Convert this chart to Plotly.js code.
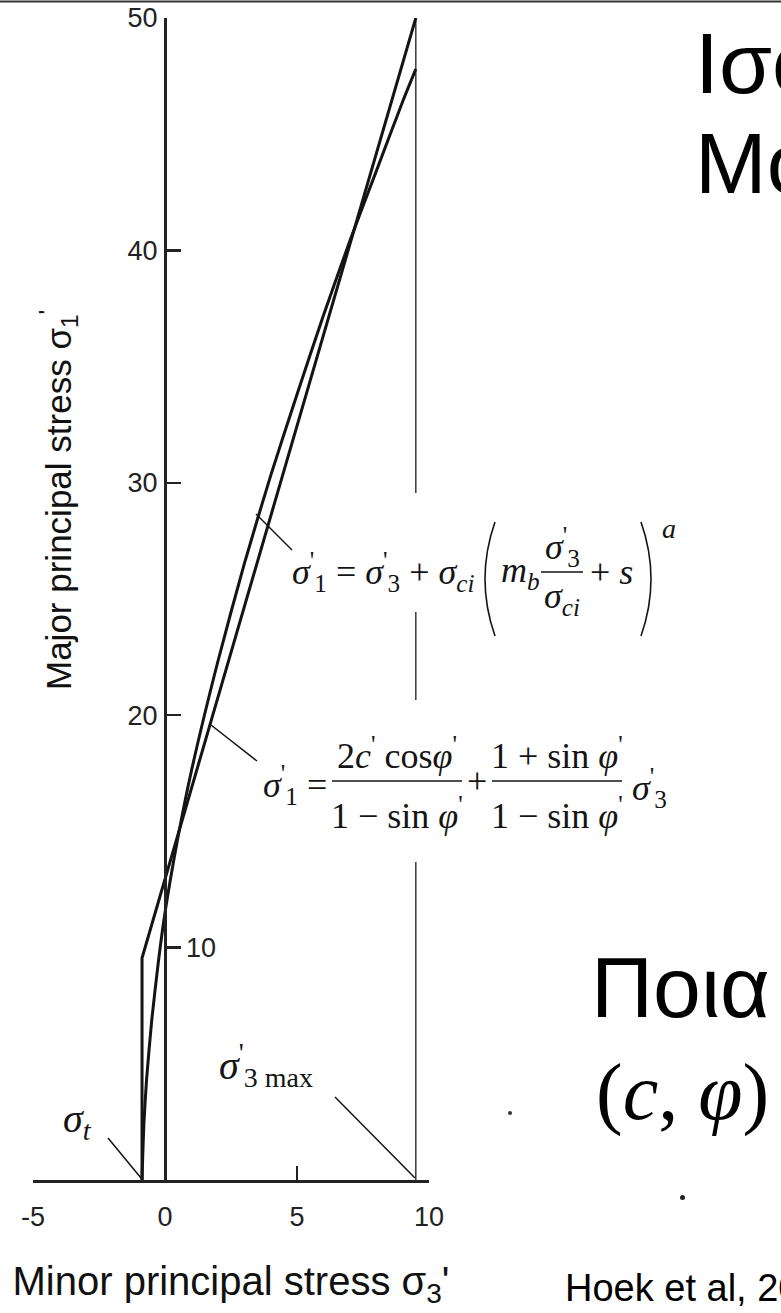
<!DOCTYPE html>
<html>
<head>
<meta charset="utf-8">
<script src="https://cdn.plot.ly/plotly-3.0.1.min.js"></script>
<style>
  html, body { margin: 0; padding: 0; background: #fff; overflow: hidden; }
  #chart { width: 781px; height: 1313px; }
</style>
</head>
<body>
<div id="chart"></div>
<script>
// Generalised Hoek-Brown envelope, minor vs major principal effective stress (MPa)
const hbSigma3 = [-0.87, -0.85, -0.8, -0.7, -0.5, -0.25, 0, 0.5, 1, 2, 3, 4, 5, 6, 7, 8, 9, 9.5];
const hbSigma1 = [0, 0.8, 2.4, 4.3, 6.9, 9.4, 11.5, 14.8, 17.6, 22.3, 26.5, 30.3, 33.8, 37.2, 40.4, 43.4, 46.4, 47.8];

// Equivalent Mohr-Coulomb line, with the tension cut-off at sigma_t
const mcSigma3 = [-0.87, -0.87, 9.5];
const mcSigma1 = [0, 9.55, 50];

// Upper limit of the confining stress range, sigma'3max
const s3maxSigma3 = [9.5, 9.5];
const s3maxSigma1 = [0, 50];

// Axis ticks
const xTickVals = [-5, 0, 5, 10];
const xTickText = ['-5', '0', '5', '10'];
const yTickVals = [10, 20, 30, 40, 50];
const yTickText = ['', '20', '30', '40', '50'];
const yInnerLabel = '10';

// Plot area in pixels, used to place the free-standing text and leader lines
const PLOT = { l: 33, t: 18, w: 396, h: 1162 };
const W = 781, H = 1313;
const px = v => (v - PLOT.l) / PLOT.w;
const py = v => (PLOT.t + PLOT.h - v) / PLOT.h;

const INK = '#141414';
const SERIF = 'Liberation Serif, Times New Roman, serif';
const SANS = 'Liberation Sans, Arial, sans-serif';

function label(text, x, y, o = {}) {
  return {
    xref: 'paper', yref: 'paper', x: px(x), y: py(y), text: text,
    showarrow: false, xanchor: o.xa || 'left', yanchor: o.ya || 'middle',
    textangle: o.angle || 0,
    font: { family: o.family || SERIF, size: o.size || 36, color: o.color || INK }
  };
}
function seg(x0, y0, x1, y1, w, color) {
  return {
    type: 'line', xref: 'paper', yref: 'paper', layer: 'above',
    x0: px(x0), y0: py(y0), x1: px(x1), y1: py(y1),
    line: { color: color || INK, width: w || 1.5 }
  };
}
function curve(xTop, yTop, xCtl, yCtl, xBot, yBot) {
  return {
    type: 'path', xref: 'paper', yref: 'paper', layer: 'above',
    path: `M ${px(xTop)},${py(yTop)} Q ${px(xCtl)},${py(yCtl)} ${px(xBot)},${py(yBot)}`,
    line: { color: INK, width: 1.6 }
  };
}
function blank(x0, y0, x1, y1) {
  return {
    type: 'rect', xref: 'paper', yref: 'paper', layer: 'above',
    x0: px(x0), y0: py(y0), x1: px(x1), y1: py(y1),
    fillcolor: '#ffffff', line: { width: 0 }
  };
}

const traces = [
  { x: s3maxSigma3, y: s3maxSigma1, mode: 'lines', line: { color: '#3a3a3a', width: 1.5 }, hoverinfo: 'skip' },
  { x: mcSigma3, y: mcSigma1, mode: 'lines', line: { color: INK, width: 3 }, name: 'Mohr-Coulomb' },
  { x: hbSigma3, y: hbSigma1, mode: 'lines', line: { color: INK, width: 3, shape: 'spline', smoothing: 0.6 }, name: 'Hoek-Brown' }
];

const shapes = [
  // white panels behind the two criteria, breaking the sigma'3max line
  blank(285, 493, 675, 612),
  blank(262, 700, 680, 862),
  // leader lines
  seg(256, 514, 292, 550),
  seg(211, 725, 257, 761),
  seg(108, 1138, 141, 1178),
  seg(335, 1097, 415, 1178),
  // large brackets of the Hoek-Brown term
  curve(495, 522, 475, 579, 495, 636),
  curve(641, 522, 661, 579, 641, 636),
  // fraction bars
  seg(541, 572, 583, 572, 1.5),
  seg(332, 781, 462, 781, 1.5),
  seg(492, 781, 622, 781, 1.5),
  // rule along the top edge of the page
  seg(0, 1.5, W, 1.5, 2, '#333'),
  // two stray printer's dots
  { type: 'circle', xref: 'paper', yref: 'paper', layer: 'above',
    x0: px(508), x1: px(512), y0: py(1111), y1: py(1115), fillcolor: '#333', line: { width: 0 } },
  { type: 'circle', xref: 'paper', yref: 'paper', layer: 'above',
    x0: px(680), x1: px(685), y0: py(1195), y1: py(1200), fillcolor: '#222', line: { width: 0 } }
];

const annotations = [
  // inner label of the 10 tick, set to the right of the axis
  { xref: 'x', yref: 'y', x: 0, y: yTickVals[0], text: yInnerLabel, showarrow: false,
    xanchor: 'left', yanchor: 'middle', xshift: 19, font: { family: SANS, size: 27, color: '#222' } },

  // vertical axis title
  label("Major principal stress σ<sub>1</sub><sup>'</sup>", 58, 500,
        { xa: 'center', angle: -90, family: SANS, size: 35, color: '#111' }),

  // Hoek-Brown criterion
  label("<i>σ</i><sup>'</sup><sub>1</sub> = <i>σ</i><sup>'</sup><sub>3</sub> + <i>σ</i><sub><i>ci</i></sub>", 290, 572),
  label("<i>m</i><sub><i>b</i></sub>", 499, 572),
  label("<i>σ</i><sup>'</sup><sub>3</sub>", 562, 547, { xa: 'center' }),
  label("<i>σ</i><sub><i>ci</i></sub>", 562, 598, { xa: 'center' }),
  label("+ <i>s</i>", 588, 572),
  label("<i>a</i>", 660, 528, { size: 28 }),

  // Mohr-Coulomb criterion
  label("<i>σ</i><sup>'</sup><sub>1</sub> =", 261, 785),
  label("2<i>c</i><sup>'</sup> cos<i>φ</i><sup>'</sup>", 397, 753, { xa: 'center' }),
  label("1 − sin <i>φ</i><sup>'</sup>", 397, 813, { xa: 'center' }),
  label("+", 477, 781, { xa: 'center' }),
  label("1 + sin <i>φ</i><sup>'</sup>", 557, 753, { xa: 'center' }),
  label("1 − sin <i>φ</i><sup>'</sup>", 557, 813, { xa: 'center' }),
  label("<i>σ</i><sup>'</sup><sub>3</sub>", 630, 788),

  // tensile strength and confining stress limit
  label("<i>σ<sub>t</sub></i>", 61, 1121, { size: 40 }),
  label("<i>σ</i><sup>'</sup><sub>3 max</sub>", 217, 1065, { size: 40 }),

  // slide text beside the figure
  label("Ισοδύναμο", 693, 63, { family: SANS, size: 86, color: '#000' }),
  label("Mohr-Coulomb", 693, 163, { family: SANS, size: 86, color: '#000' }),
  label("Ποια", 589, 987, { family: SANS, size: 86, color: '#000' }),
  label("(<i>c</i>, <i>φ</i>)", 594, 1092, { family: SERIF, size: 80, color: '#000' }),
  label("Hoek et al, 2002", 563, 1288, { family: SANS, size: 38, color: '#000' })
];

const layout = {
  width: W, height: H,
  margin: { l: PLOT.l, r: W - PLOT.l - PLOT.w, t: PLOT.t, b: H - PLOT.t - PLOT.h, pad: 0 },
  paper_bgcolor: '#fff', plot_bgcolor: '#fff',
  showlegend: false,
  xaxis: {
    range: [-5, 10], showgrid: false, zeroline: false,
    showline: true, linecolor: '#222', linewidth: 2.5,
    ticks: 'inside', ticklen: 14, tickwidth: 2.5, tickcolor: '#222',
    tickvals: xTickVals, ticktext: xTickText, ticklabelstandoff: 11,
    tickfont: { family: SANS, size: 27, color: '#222' },
    title: { text: "Minor principal stress σ<sub>3</sub>'", font: { family: SANS, size: 40, color: '#111' }, standoff: 36 }
  },
  yaxis: {
    range: [0, 50], anchor: 'free', position: 5 / 15,
    showgrid: false, zeroline: false,
    showline: true, linecolor: '#222', linewidth: 2.5,
    ticks: 'inside', ticklen: 14, tickwidth: 2.5, tickcolor: '#222',
    tickvals: yTickVals, ticktext: yTickText, ticklabelstandoff: 1,
    tickfont: { family: SANS, size: 27, color: '#222' }
  },
  shapes: shapes,
  annotations: annotations
};

Plotly.newPlot('chart', traces, layout, { displayModeBar: false, staticPlot: true });
</script>
</body>
</html>
